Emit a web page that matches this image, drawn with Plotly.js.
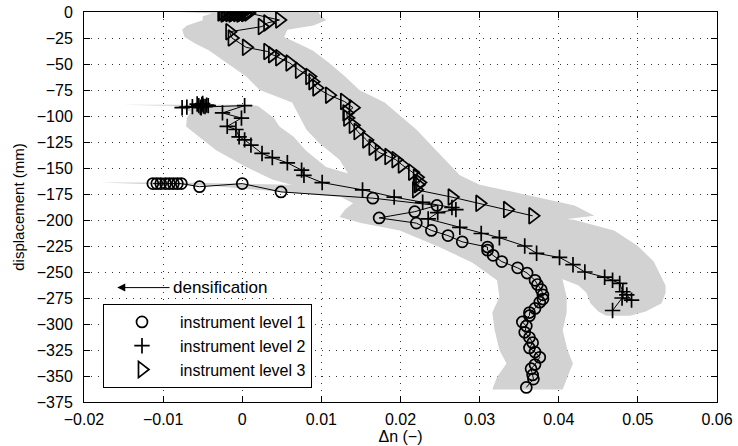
<!DOCTYPE html>
<html>
<head>
<meta charset="utf-8">
<script src="https://cdn.plot.ly/plotly-3.0.1.min.js"></script>
<style>html,body{margin:0;padding:0;background:#fff;}#chart{width:738px;height:446px;}</style>
</head>
<body>
<div id="chart"></div>
<script>
// ---- data ----
const xTickVals = [-0.02, -0.01, 0, 0.01, 0.02, 0.03, 0.04, 0.05, 0.06];
const xTickText = ["\u22120.02", "\u22120.01", "0", "0.01", "0.02", "0.03", "0.04", "0.05", "0.06"];
const yTickVals = [0, -25, -50, -75, -100, -125, -150, -175, -200, -225, -250, -275, -300, -325, -350, -375];
const yTickText = ["0", "\u221225", "\u221250", "\u221275", "\u2212100", "\u2212125", "\u2212150", "\u2212175", "\u2212200", "\u2212225", "\u2212250", "\u2212275", "\u2212300", "\u2212325", "\u2212350", "\u2212375"];

const seriesNames = ["instrument level 1", "instrument level 2", "instrument level 3"];

// instrument level 1 (circles)
const lvl1X = [-0.0113, -0.0108, -0.0103, -0.0097, -0.0092, -0.0087, -0.0082, -0.0077, -0.0054, 0.0000, 0.0049, 0.0165, 0.0246, 0.0218, 0.0173, 0.0220, 0.0239, 0.0260, 0.0278, 0.0310, 0.0310, 0.0317, 0.0328, 0.0348, 0.0360, 0.0370, 0.0373, 0.0378, 0.0380, 0.0380, 0.0376, 0.0370, 0.0363, 0.0363, 0.0354, 0.0359, 0.0357, 0.0363, 0.0367, 0.0363, 0.0370, 0.0376, 0.0370, 0.0365, 0.0367, 0.0368, 0.0359];
const lvl1Y = [-165, -165, -165, -165, -165, -165, -165, -165, -168, -165, -173, -179, -186, -192, -198, -203, -210, -215, -221, -226, -229, -234, -240, -246, -251, -258, -262, -267, -272, -276, -279, -285, -289, -292, -298, -302, -308, -313, -318, -323, -327, -332, -339, -343, -349, -353, -361];

// instrument level 2 (plus)
const lvl2X = [-0.0057, -0.0055, -0.0053, -0.0051, -0.0049, -0.0047, -0.0045, -0.0043, -0.0050, -0.0052, -0.0063, -0.0070, -0.0076, 0.0003, -0.0025, -0.0001, -0.0019, -0.0008, -0.0004, 0.0003, 0.0011, 0.0025, 0.0038, 0.0057, 0.0075, 0.0078, 0.0101, 0.0152, 0.0192, 0.0228, 0.0265, 0.0270, 0.0247, 0.0235, 0.0275, 0.0302, 0.0325, 0.0357, 0.0372, 0.0401, 0.0418, 0.0433, 0.0458, 0.0468, 0.0477, 0.0481, 0.0486, 0.0492, 0.0480, 0.0468];
const lvl2Y = [-88.5, -90, -91.5, -89, -90.5, -91, -89.5, -90, -88, -92, -91, -91.5, -92, -90, -97, -102, -110, -113, -120, -123, -128, -136, -140, -145, -152, -157, -164, -171, -178, -183, -188, -190, -193, -199, -207, -213, -217, -225, -232, -236, -243, -250, -255, -258, -261, -269, -272, -277, -275, -287];

// instrument level 3 (triangles)
const lvl3X = [-0.0026, -0.0024, -0.0022, -0.0020, -0.0018, -0.0016, -0.0014, -0.0012, -0.0010, -0.0008, -0.0006, -0.0004, -0.0002, 0.0000, 0.0002, 0.0004, 0.0006, 0.0008, 0.0047, 0.0032, 0.0025, -0.0016, -0.0013, 0.0005, 0.0032, 0.0038, 0.0047, 0.0060, 0.0072, 0.0085, 0.0089, 0.0094, 0.0110, 0.0129, 0.0140, 0.0132, 0.0133, 0.0140, 0.0146, 0.0157, 0.0165, 0.0173, 0.0185, 0.0194, 0.0202, 0.0215, 0.0221, 0.0224, 0.0222, 0.0220, 0.0265, 0.0300, 0.0335, 0.0367];
const lvl3Y = [-1, 0, -2, -1, 0, -1.5, -0.5, -2, -1, 0, -1.5, -0.5, -2, -1, 0, -1.5, -0.5, -1, -7.7, -10.5, -14, -19, -25, -34, -38, -41, -44, -49, -56, -62, -67, -73, -80, -86, -92, -97, -102, -109, -115, -123, -130, -135, -139, -142, -147, -154, -159, -164, -166, -171, -178, -184, -190, -196];

// grey spread bands: depth, left edge, right edge
const band1Y = [-164, -165.5, -167, -170, -174, -178, -184, -190, -197, -203, -210, -226, -241, -258, -274, -289, -306, -325, -338, -351, -363];
const band1L = [-0.018, -0.0125, -0.004, 0.0005, 0.007, 0.0125, 0.014, 0.013, 0.0123, 0.015, 0.0199, 0.0249, 0.0291, 0.0322, 0.0325, 0.0316, 0.0319, 0.0325, 0.0334, 0.0322, 0.0316];
const band1R = [-0.008, 0.003, 0.012, 0.016, 0.020, 0.024, 0.027, 0.028, 0.028, 0.030, 0.032, 0.036, 0.040, 0.0405, 0.041, 0.041, 0.0405, 0.0411, 0.0418, 0.0411, 0.0405];

const band2Y = [-89.3, -90.3, -96, -102, -110, -120, -133, -149, -161, -170, -178, -185, -192, -200, -210, -225, -240, -255, -263, -270, -280, -288, -292];
const band2L = [-0.015, -0.0085, -0.0065, -0.007, -0.0071, -0.0055, -0.0033, 0.0005, 0.0038, 0.008, 0.013, 0.017, 0.020, 0.022, 0.025, 0.030, 0.035, 0.040, 0.0425, 0.0435, 0.044, 0.045, 0.046];
const band2R = [0.001, 0.002, 0.003, 0.004, 0.0047, 0.0065, 0.008, 0.0106, 0.016, 0.022, 0.027, 0.031, 0.034, 0.042, 0.047, 0.050, 0.052, 0.053, 0.0535, 0.0535, 0.053, 0.051, 0.049];

const band3Y = [0, -1.5, -4, -8, -13, -17, -24, -30, -37, -49, -62, -75, -87, -100, -113, -126, -142, -157, -166, -176, -186, -196, -200];
const band3L = [-0.0082, -0.0038, -0.005, -0.005, -0.007, -0.0076, -0.0073, -0.006, -0.0042, -0.002, 0.0005, 0.0022, 0.0063, 0.0072, 0.0081, 0.0097, 0.0123, 0.0135, 0.014, 0.017, 0.020, 0.025, 0.031];
const band3R = [0.0097, 0.0097, 0.010, 0.0106, 0.009, 0.0057, 0.0053, 0.007, 0.0089, 0.011, 0.013, 0.0148, 0.018, 0.020, 0.022, 0.0237, 0.0256, 0.0275, 0.030, 0.036, 0.042, 0.0445, 0.040];

// ---- build traces ----
const grey = '#d2d2d2';
function band(yv, lv, rv) {
  return {
    x: lv.concat(rv.slice().reverse()),
    y: yv.concat(yv.slice().reverse()),
    type: 'scatter', mode: 'lines', fill: 'toself', fillcolor: grey,
    line: {width: 0, color: grey}, hoverinfo: 'skip', showlegend: false
  };
}
function line(xv, yv) {
  return {x: xv, y: yv, type: 'scatter', mode: 'lines', line: {color: '#000', width: 1}, showlegend: false, hoverinfo: 'skip'};
}
function marks(xv, yv, name, sym, size) {
  return {x: xv, y: yv, type: 'scatter', mode: 'markers', name: name,
    marker: {symbol: sym, size: size, color: '#000', line: {color: '#000', width: 1.7}}};
}

const traces = [
  band(band3Y, band3L, band3R),
  band(band2Y, band2L, band2R),
  band(band1Y, band1L, band1R),
  line(lvl1X, lvl1Y), line(lvl2X, lvl2Y), line(lvl3X, lvl3Y),
  marks(lvl1X, lvl1Y, seriesNames[0], 'circle-open', 11),
  marks(lvl2X, lvl2Y, seriesNames[1], 'cross-thin-open', 11),
  marks(lvl3X, lvl3Y, seriesNames[2], 'triangle-right-open', 14)
];

const fam = 'Liberation Sans, Arial, sans-serif';
const tickFont = {family: fam, size: 16, color: '#000'};
const axisCommon = {
  showline: true, linecolor: '#000', linewidth: 1, mirror: 'allticks',
  ticks: 'inside', ticklen: 6, tickcolor: '#000', tickwidth: 1,
  showgrid: true, gridcolor: '#333', griddash: '1px,6px', gridwidth: 1,
  zeroline: false, tickfont: tickFont
};

const layout = {
  width: 738, height: 446,
  margin: {l: 84, r: 21, t: 12, b: 44},
  paper_bgcolor: '#fff', plot_bgcolor: '#fff',
  font: {family: fam, size: 15, color: '#000'},
  xaxis: Object.assign({}, axisCommon, {
    range: [-0.02, 0.06], tickvals: xTickVals, ticktext: xTickText,
    title: {text: '\u0394n (\u2212)', font: {family: fam, size: 16, color: '#000'}, standoff: 2}, ticklabelstandoff: 3
  }),
  yaxis: Object.assign({}, axisCommon, {
    range: [-375, 0], tickvals: yTickVals, ticktext: yTickText,
    title: {text: 'displacement (mm)', font: {family: fam, size: 15, color: '#000'}, standoff: 8}, ticklabelstandoff: 7
  }),
  showlegend: true,
  legend: {
    x: 0.030, y: 0.2513, xanchor: 'left', yanchor: 'top',
    bgcolor: '#fff', bordercolor: '#000', borderwidth: 1,
    font: {family: fam, size: 16, color: '#000'},
    itemwidth: 66, tracegroupgap: 0
  },
  annotations: [
    {x: -0.0158, y: -265, ax: -0.0090, ay: -265, xref: 'x', yref: 'y', axref: 'x', ayref: 'y',
     text: '', showarrow: true, arrowhead: 2, arrowsize: 1.6, arrowwidth: 1, arrowcolor: '#000'},
    {x: -0.0090, y: -265, xref: 'x', yref: 'y', text: 'densification', showarrow: false,
     xanchor: 'left', yanchor: 'middle', font: {family: fam, size: 17, color: '#000'}}
  ]
};

Plotly.newPlot('chart', traces, layout, {displayModeBar: false, staticPlot: true});
</script>
</body>
</html>
